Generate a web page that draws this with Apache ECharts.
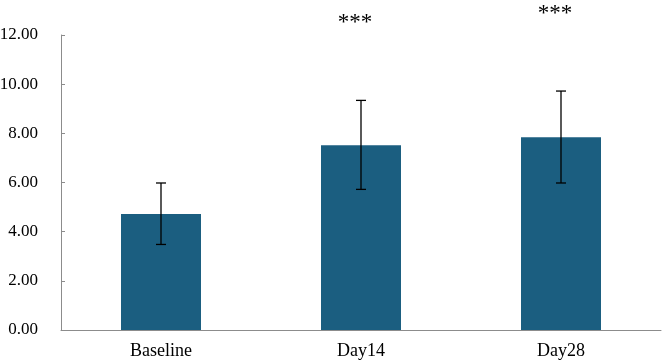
<!DOCTYPE html>
<html><head><meta charset="utf-8">
<script src="https://cdn.jsdelivr.net/npm/echarts@6/dist/echarts.min.js"></script>
<style>html,body{margin:0;padding:0;background:#fff}#c{width:664px;height:361px}</style>
</head><body><div id="c"></div>
<script>
var categories = ['Baseline', 'Day14', 'Day28'];
var means = [4.72, 7.52, 7.84];
var errLow = [3.48, 5.72, 5.98];
var errHigh = [5.98, 9.34, 9.72];
var significance = ['', '***', '***'];
var yTicks = [0, 2, 4, 6, 8, 10, 12];

var chart = echarts.init(document.getElementById('c'));
var font = "'Liberation Serif', 'Times New Roman', serif";
chart.setOption({
  animation: false,
  grid: {left: 61, right: 3, top: 35, bottom: 31, containLabel: false, outerBoundsMode: 'none'},
  xAxis: {
    type: 'category', data: categories,
    axisLine: {lineStyle: {color: '#8c8c8c', width: 1}},
    axisTick: {alignWithLabel: true, length: 5, lineStyle: {color: '#8c8c8c'}},
    axisLabel: {color: '#000', fontFamily: font, fontSize: 18, margin: 12}
  },
  yAxis: {
    type: 'value', min: yTicks[0], max: yTicks[yTicks.length - 1], interval: 2,
    axisLine: {show: true, lineStyle: {color: '#8c8c8c', width: 1}},
    axisTick: {show: true, inside: true, length: 4, lineStyle: {color: '#8c8c8c'}},
    splitLine: {show: false},
    axisLabel: {color: '#000', fontFamily: font, fontSize: 17, margin: 23,
      formatter: function (v) { return v.toFixed(2); }}
  },
  series: [{
    type: 'bar', data: means, barWidth: 80,
    itemStyle: {color: '#1b5e80'}
  }, {
    type: 'custom',
    data: categories.map(function (c, i) { return [i, errLow[i], errHigh[i]]; }),
    renderItem: function (params, api) {
      var i = api.value(0);
      var lo = api.coord([i, api.value(1)]);
      var hi = api.coord([i, api.value(2)]);
      var x = lo[0], hw = 5;
      var st = {stroke: '#000', lineWidth: 1.3};
      var children = [
        {type: 'line', shape: {x1: x, y1: lo[1], x2: x, y2: hi[1]}, style: st},
        {type: 'line', shape: {x1: x - hw, y1: lo[1], x2: x + hw, y2: lo[1]}, style: st},
        {type: 'line', shape: {x1: x - hw, y1: hi[1], x2: x + hw, y2: hi[1]}, style: st}
      ];
      var s = significance[params.dataIndex];
      if (s) {
        children.push({type: 'text', x: x - 6, y: hi[1] - 77,
          style: {text: s, fill: '#000', font: '23px ' + font, align: 'center', verticalAlign: 'middle'}});
      }
      return {type: 'group', children: children};
    },
    z: 10
  }]
});
</script></body></html>
